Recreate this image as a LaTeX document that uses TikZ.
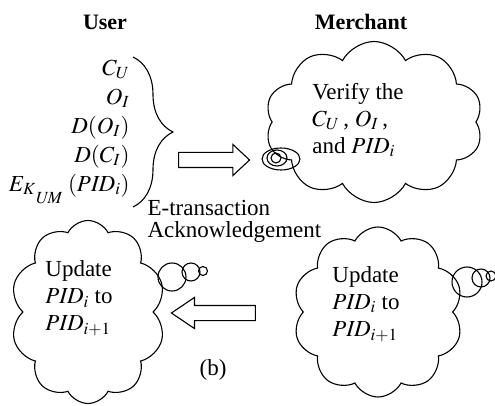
\documentclass[tikz,border=0pt]{standalone}
\usepackage{mathptmx}
\usepackage[no-math]{fontspec}
\setmainfont{Liberation Serif}
\usetikzlibrary{shapes.symbols,shapes.arrows,decorations.pathreplacing}

\begin{document}
\begin{tikzpicture}[x=1pt, y=-1pt, line width=1.1pt,
  every node/.style={font=\fontsize{23}{27}\selectfont},
  head/.style={font=\fontsize{22}{26}\selectfont\bfseries},
  puff/.style={draw, cloud, cloud puffs=10, cloud puff arc=125, cloud ignores aspect, inner sep=0pt},
  note/.style={align=left, inner sep=0pt},
  fat arrow/.style={draw, single arrow, inner xsep=0pt, inner ysep=7pt, minimum width=30pt, single arrow head extend=8pt}]
  \useasboundingbox (0,0) rectangle (495,406);

  \node[head] (user)     at (105,22) {User};
  \node[head] (merchant) at (361,22) {Merchant};

  % what the user sends
  \node[align=right, inner sep=1pt, anchor=east, font=\fontsize{23}{29}\selectfont] (items) at (131,132)
    {$C_U$\\ $O_I$\\ $D(O_I)$\\ $D(C_I)$\\ $E_{K\lower9pt\hbox{$\scriptstyle\mathit{UM}$}}\;(\mathit{PID}_i)$};
  \coordinate (bracetop) at (133,57);
  \coordinate (bracebot) at (133,207);
  \draw[decorate, decoration={brace, amplitude=40pt}] (bracetop) -- (bracebot);
  \node[fat arrow, minimum height=71pt, single arrow tip angle=86] (send) at (210,160) {};

  % merchant side
  \node[puff, minimum width=218pt, minimum height=161pt] (mcloud) at (374,122) {};
  \node[note] (verify) at (358,120) {Verify the\\ $C_U$\,, $O_I$\,,\\ and $\mathit{PID}_i$};
  \draw (281,159) ellipse (19 and 11);
  \draw (277,158) ellipse (10 and 8);
  \draw (276,158) circle (5);

  \node[note, anchor=north west, font=\fontsize{23}{22}\selectfont] (ack) at (147,200) {E-transaction\\ Acknowledgement};

  % both sides update
  \node[puff, minimum width=170pt, minimum height=170pt] (rcloud) at (378,312) {};
  \node[note] (rupdate) at (366,304) {Update\\ $\mathit{PID}_i$ to\\ $\mathit{PID}_{i+1}$};
  \draw (467,282) circle (15);
  \draw (481,278) circle (9);
  \draw (491,276) circle (5);

  \node[fat arrow, minimum height=84pt, single arrow tip angle=68, shape border rotate=180] (back) at (219,313) {};

  \node[puff, minimum width=155pt, minimum height=183pt] (lcloud) at (88,312) {};
  \node[note] (lupdate) at (79,298) {Update\\ $\mathit{PID}_i$ to\\ $\mathit{PID}_{i+1}$};
  \draw (172,277) circle (14);
  \draw (191,272) circle (9);
  \draw (203,271) circle (4.5);

  \node (caption) at (213,370) {(b)};
\end{tikzpicture}
\end{document}
